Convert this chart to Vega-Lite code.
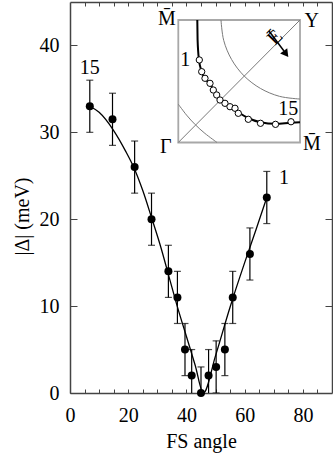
{
  "$schema": "https://vega.github.io/schema/vega-lite/v6.json",
  "width": 262,
  "height": 391,
  "autosize": {"type": "none"},
  "padding": {"left": 70, "top": 2, "right": 1, "bottom": 64},
  "background": "white",
  "config": {"view": {"stroke": null}, "font": "Liberation Serif"},
  "datasets": {
    "box": [{"x": 37.2, "x2": 79.01, "y": 28.83, "y2": 42.93}],
    "arcs": [
      {"g": "diag", "x": 37.2, "y": 28.83}, {"g": "diag", "x": 79.01, "y": 42.93},
      {"g": "a1", "x": 51.87, "y": 42.93}, {"g": "a1", "x": 52.8, "y": 40.58}, {"g": "a1", "x": 55.51, "y": 38.38}, {"g": "a1", "x": 59.81, "y": 36.49}, {"g": "a1", "x": 65.44, "y": 35.05}, {"g": "a1", "x": 72.0, "y": 34.14}, {"g": "a1", "x": 79.01, "y": 33.83},
      {"g": "a2", "x": 37.2, "y": 33.24}, {"g": "a2", "x": 40.05, "y": 31.98}, {"g": "a2", "x": 43.04, "y": 30.88}, {"g": "a2", "x": 46.34, "y": 29.88}, {"g": "a2", "x": 50.5, "y": 28.83}
    ],
    "fs": [
      {"x": 43.73, "y": 42.93}, {"x": 43.83, "y": 40.63}, {"x": 44.31, "y": 38.33}, {"x": 45.17, "y": 37.06}, {"x": 46.37, "y": 36.2}, {"x": 48.09, "y": 35.57}, {"x": 49.46, "y": 34.82}, {"x": 50.83, "y": 34.18}, {"x": 52.89, "y": 33.49}, {"x": 55.31, "y": 32.92}, {"x": 57.71, "y": 32.34}, {"x": 61.14, "y": 31.65}, {"x": 65.44, "y": 31.16}, {"x": 70.59, "y": 30.98}, {"x": 75.74, "y": 31.1}, {"x": 79.01, "y": 31.16}
    ],
    "fsk": [
      {"x": 44.42, "y": 38.33}, {"x": 45.24, "y": 36.98}, {"x": 46.37, "y": 36.22}, {"x": 48.09, "y": 35.64}, {"x": 49.23, "y": 34.87}, {"x": 50.39, "y": 34.3}, {"x": 51.53, "y": 33.72}, {"x": 53.24, "y": 33.34}, {"x": 54.96, "y": 32.95}, {"x": 56.68, "y": 32.77}, {"x": 57.81, "y": 32.19}, {"x": 61.25, "y": 31.5}, {"x": 65.44, "y": 31.04}, {"x": 70.59, "y": 30.92}, {"x": 75.92, "y": 31.22}
    ],
    "arrow": [{"x": 68.36, "y": 41.66}, {"x": 73.51, "y": 39.36}],
    "arrowhead": [{"x": 74.2, "y": 39.02}],
    "etext": [{"x": 70.42, "y": 40.91, "text": "Ē"}],
    "corners": [
      {"x": 33.32, "y": 42.35, "text": "M̄"},
      {"x": 83.03, "y": 42.16, "text": "Y"},
      {"x": 32.91, "y": 27.59, "text": "Γ"},
      {"x": 83.13, "y": 27.97, "text": "M̄"}
    ],
    "labels": [
      {"x": 6.77, "y": 37.37, "text": "15"},
      {"x": 73.51, "y": 24.8, "text": "1"},
      {"x": 39.61, "y": 38.33, "text": "1"},
      {"x": 74.99, "y": 32.66, "text": "15"}
    ],
    "curve": [
      {"x": 6.8, "y": 33}, {"x": 10, "y": 32.3}, {"x": 15, "y": 30.2}, {"x": 19, "y": 27.9}, {"x": 22, "y": 25.9}, {"x": 25, "y": 23.3}, {"x": 28, "y": 20.2}, {"x": 31, "y": 17}, {"x": 34, "y": 13.4}, {"x": 37, "y": 9.8}, {"x": 40, "y": 6.5}, {"x": 43, "y": 3.2}, {"x": 45.8, "y": 0},
      {"x": 50, "y": 4.3}, {"x": 55, "y": 9.9}, {"x": 60, "y": 15}, {"x": 64, "y": 18.9}, {"x": 67.6, "y": 22.5}
    ],
    "points": [
      {"x": 6.8, "y": 33, "lo": 30, "hi": 36},
      {"x": 14.6, "y": 31.5, "lo": 28.5, "hi": 34.5},
      {"x": 22.2, "y": 26, "lo": 23, "hi": 29},
      {"x": 28, "y": 20, "lo": 17, "hi": 23},
      {"x": 33.8, "y": 14, "lo": 11, "hi": 17},
      {"x": 36.9, "y": 11, "lo": 8, "hi": 14},
      {"x": 39.5, "y": 5, "lo": 2, "hi": 8},
      {"x": 41.8, "y": 2, "lo": -1, "hi": 5},
      {"x": 45, "y": 0, "lo": -3, "hi": 3},
      {"x": 47.6, "y": 2, "lo": -1, "hi": 5},
      {"x": 50.2, "y": 3, "lo": 0, "hi": 6},
      {"x": 53.2, "y": 5, "lo": 2, "hi": 8},
      {"x": 55.9, "y": 11, "lo": 8, "hi": 14},
      {"x": 61.8, "y": 16, "lo": 13, "hi": 19},
      {"x": 67.6, "y": 22.5, "lo": 19.5, "hi": 25.5}
    ]
  },
  "encoding": {
    "x": {"field": "x", "type": "quantitative", "scale": {"domain": [0, 90], "nice": false}, "axis": null},
    "y": {"field": "y", "type": "quantitative", "scale": {"domain": [0, 45], "nice": false}, "axis": null}
  },
  "layer": [
    {
      "data": {"name": "box"},
      "mark": {"type": "rect", "fill": "white", "stroke": "#a8a8a8", "strokeWidth": 1.8},
      "encoding": {
        "x": {"field": "x", "type": "quantitative", "scale": {"domain": [0, 90], "nice": false},
          "axis": {"orient": "top", "values": [5, 10, 15, 20, 25, 30, 35, 40, 45, 50, 55, 60, 65, 70, 75, 80, 85], "labels": false, "tickSize": -4, "tickColor": "#444", "domainColor": "#444", "domainWidth": 1.5, "title": null, "grid": false}},
        "x2": {"field": "x2"},
        "y": {"field": "y", "type": "quantitative", "scale": {"domain": [0, 45], "nice": false},
          "axis": {"orient": "right", "values": [10, 20, 30, 40], "labels": false, "tickSize": -7, "tickColor": "#444", "domainColor": "#444", "domainWidth": 1.5, "title": null, "grid": false}},
        "y2": {"field": "y2"}
      }
    },
    {
      "data": {"name": "arcs"},
      "mark": {"type": "line", "color": "#7a7a7a", "strokeWidth": 1, "interpolate": "cardinal"},
      "encoding": {"detail": {"field": "g", "type": "nominal"}}
    },
    {
      "data": {"name": "fs"},
      "mark": {"type": "line", "color": "black", "strokeWidth": 2, "interpolate": "monotone"},
      "encoding": {}
    },
    {
      "data": {"name": "fsk"},
      "mark": {"type": "point", "shape": "circle", "filled": false, "fill": "white", "fillOpacity": 1, "stroke": "black", "strokeWidth": 1, "size": 40, "opacity": 1},
      "encoding": {}
    },
    {
      "data": {"name": "arrow"},
      "mark": {"type": "line", "color": "black", "strokeWidth": 1.5},
      "encoding": {}
    },
    {
      "data": {"name": "arrowhead"},
      "mark": {"type": "point", "shape": "triangle-down", "filled": true, "color": "black", "size": 80, "angle": 323, "opacity": 1},
      "encoding": {}
    },
    {
      "data": {"name": "etext"},
      "mark": {"type": "text", "fontSize": 20, "angle": 315, "align": "center", "baseline": "middle", "color": "black", "font": "Liberation Serif"},
      "encoding": {"text": {"field": "text"}}
    },
    {
      "data": {"name": "corners"},
      "mark": {"type": "text", "fontSize": 20, "align": "center", "baseline": "alphabetic", "color": "black", "font": "Liberation Serif"},
      "encoding": {"text": {"field": "text"}}
    },
    {
      "data": {"name": "labels"},
      "mark": {"type": "text", "fontSize": 20, "align": "center", "baseline": "middle", "color": "black", "font": "Liberation Serif"},
      "encoding": {"text": {"field": "text"}}
    },
    {
      "data": {"name": "points"},
      "mark": {"type": "rule", "color": "black", "strokeWidth": 1.2, "clip": true},
      "encoding": {
        "y": {"field": "lo", "type": "quantitative", "scale": {"domain": [0, 45], "nice": false}, "axis": null},
        "y2": {"field": "hi"}
      }
    },
    {
      "data": {"name": "points"},
      "mark": {"type": "tick", "orient": "horizontal", "color": "black", "size": 7, "thickness": 1.2, "clip": true},
      "encoding": {
        "y": {"field": "lo", "type": "quantitative", "scale": {"domain": [0, 45], "nice": false}, "axis": null}
      }
    },
    {
      "data": {"name": "points"},
      "mark": {"type": "tick", "orient": "horizontal", "color": "black", "size": 7, "thickness": 1.2},
      "encoding": {
        "y": {"field": "hi", "type": "quantitative", "scale": {"domain": [0, 45], "nice": false}, "axis": null}
      }
    },
    {
      "data": {"name": "curve"},
      "mark": {"type": "line", "color": "black", "strokeWidth": 1.3, "interpolate": "monotone"},
      "encoding": {}
    },
    {
      "data": {"name": "points"},
      "mark": {"type": "point", "shape": "circle", "filled": true, "color": "black", "size": 64, "opacity": 1},
      "encoding": {
        "x": {"field": "x", "type": "quantitative", "scale": {"domain": [0, 90], "nice": false},
          "axis": {"orient": "bottom", "values": [0, 5, 10, 15, 20, 25, 30, 35, 40, 45, 50, 55, 60, 65, 70, 75, 80, 85], "labelExpr": "datum.value % 20 == 0 ? datum.label : ''", "labelFlush": false, "labelOverlap": false, "tickSize": -4, "labelPadding": 16, "labelFontSize": 20, "labelFont": "Liberation Serif", "labelColor": "black", "tickColor": "#444", "domainColor": "#444", "domainWidth": 1.5, "grid": false, "title": "FS angle", "titleFont": "Liberation Serif", "titleFontSize": 20, "titleFontWeight": "normal", "titleColor": "black", "titleBaseline": "alphabetic", "titleAlign": "center", "titleX": 131, "titleY": 54}},
        "y": {"field": "y", "type": "quantitative", "scale": {"domain": [0, 45], "nice": false},
          "axis": {"orient": "left", "values": [0, 10, 20, 30, 40], "labelFlush": false, "labelOverlap": false, "tickSize": -7, "labelPadding": 18, "labelFontSize": 20, "labelFont": "Liberation Serif", "labelColor": "black", "tickColor": "#444", "domainColor": "#444", "domainWidth": 1.5, "grid": false, "title": "|Δ| (meV)", "titleFont": "Liberation Serif", "titleFontSize": 20, "titleFontWeight": "normal", "titleColor": "black", "titleAngle": 270, "titleBaseline": "alphabetic", "titleAlign": "center", "titleX": -42, "titleY": 214}}
      }
    }
  ],
  "resolve": {"axis": {"x": "independent", "y": "independent"}}
}
